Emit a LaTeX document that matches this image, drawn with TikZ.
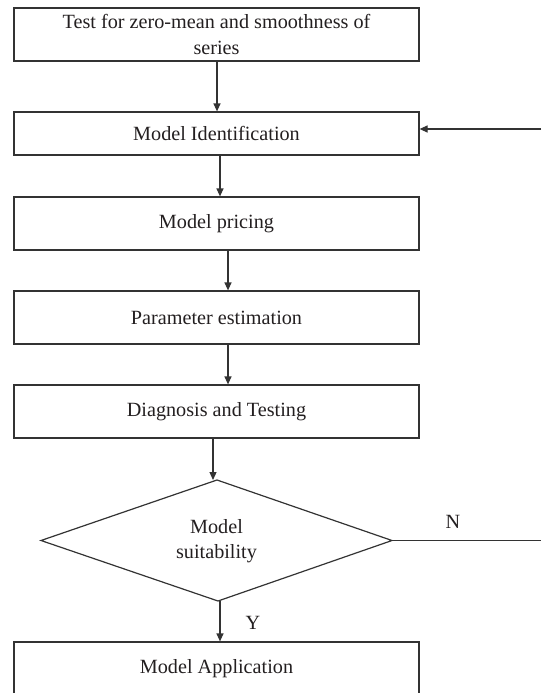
\documentclass[tikz,border=0pt]{standalone}
\usepackage{fontspec}
\setmainfont{Liberation Serif}
\usetikzlibrary{arrows.meta,shapes.geometric}
\definecolor{ln}{HTML}{333333}
\definecolor{tx}{HTML}{231F20}
\begin{document}
\begin{tikzpicture}[x=1pt,y=-1pt,
  box/.style={draw=ln,line width=1.2pt,rectangle,minimum width=405pt,inner sep=0pt,align=center,text=tx,font=\fontsize{20.2}{26}\selectfont},
  arr/.style={draw=ln,line width=1.2pt,-{Triangle[length=8pt,width=7pt]}},
  lbl/.style={text=tx,font=\fontsize{20.2}{24}\selectfont}]
\useasboundingbox (0,0) rectangle (541,693);
\node[box,minimum height=53pt] (b1) at (216.5,34.5) {Test for zero-mean and smoothness of\\series};
\node[box,minimum height=43pt] (b2) at (216.5,133.5) {Model Identification};
\node[box,minimum height=53pt] (b3) at (216.5,223.5) {Model pricing};
\node[box,minimum height=53pt] (b4) at (216.5,317.5) {Parameter estimation};
\node[box,minimum height=53pt] (b5) at (216.5,411.5) {Diagnosis and Testing};
\draw[ln,line width=1.2pt] (41,540.5) coordinate (dl) -- (217,480) coordinate (dt) -- (392,540.5) coordinate (dr) -- (218,601) coordinate (db) -- cycle;
\node[text=tx,font=\fontsize{20.2}{25}\selectfont,align=center,inner sep=0pt] (d) at (216.5,541) {Model\\suitability};
\node[box,minimum height=53pt] (b6) at (216.5,668.5) {Model Application};
\node[lbl] (n) at (453,522) {N};
\node[lbl] (y) at (253,623) {Y};
\coordinate (ne) at (541,540.5);
\coordinate (ie) at (541,129);
\draw[arr] (b1.south -| 217,0) -- (b2.north -| 217,0);
\draw[arr] (b2.south -| 220,0) -- (b3.north -| 220,0);
\draw[arr] (b3.south -| 228,0) -- (b4.north -| 228,0);
\draw[arr] (b4.south -| 228,0) -- (b5.north -| 228,0);
\draw[arr] (b5.south -| 213,0) -- (dt -| 213,0);
\draw[arr] (db -| 220,0) -- (b6.north -| 220,0);
\draw[ln,line width=1.2pt] (dr) -- (ne);
\draw[arr] (ie) -- (ie -| b2.east);
\end{tikzpicture}
\end{document}
